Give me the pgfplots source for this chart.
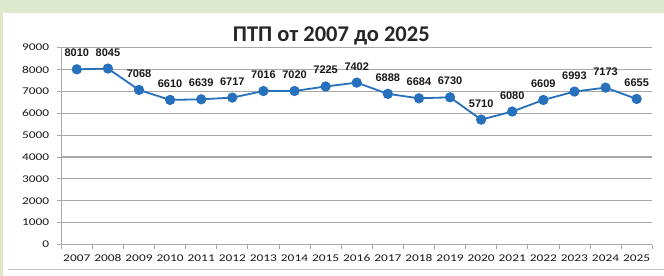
\documentclass[border=0pt]{standalone}
\usepackage{pgfplots}
\pgfplotsset{compat=1.18}
\usepackage{fontspec}
\setmainfont{Carlito}
\newfontfamily\labfont{Liberation Sans}
\newcommand{\W}[1]{\scalebox{1.3}[1]{#1}}
\definecolor{bg}{RGB}{221,232,204}
\definecolor{ln}{RGB}{38,112,188}
\definecolor{gr}{RGB}{168,168,168}
\begin{document}
\begin{tikzpicture}[x=1pt,y=1pt]
\fill[white] (0,0) rectangle (664,276);
\fill[bg] (0,263) rectangle (664,276);
\fill[bg] (0,0) rectangle (3,276);
\draw[gr!70, line width=1pt] (8,6) -- (664,6);
\path[use as bounding box] (0,0) rectangle (664,276);
\node[font=\fontsize{22.5}{26}\selectfont\bfseries, text=black!85] at (331.5,240) {ПТП от 2007 до 2025};
\begin{axis}[
  at={(61.3pt,31.3pt)}, anchor=south west,
  scale only axis, width=591.4pt, height=197pt,
  xmin=-0.5, xmax=18.5, ymin=0, ymax=9000,
  axis lines*=left,
  axis line style={gr, line width=1pt},
  tick align=outside,
  major tick length=4.5pt,
  tick style={gr, line width=0.8pt},
  ymajorgrids, grid style={gr, line width=1.1pt},
  xtick={-0.5,0.5,...,18.5},
  x tick label as interval,
  xticklabels={\W{2007},\W{2008},\W{2009},\W{2010},\W{2011},\W{2012},\W{2013},\W{2014},\W{2015},\W{2016},\W{2017},\W{2018},\W{2019},\W{2020},\W{2021},\W{2022},\W{2023},\W{2024},\W{2025}},
  ytick={0,1000,...,9000},
  yticklabels={\W{0},\W{1000},\W{2000},\W{3000},\W{4000},\W{5000},\W{6000},\W{7000},\W{8000},\W{9000}},
  tick label style={font=\fontsize{10.3}{12}\selectfont, text=black!90},
  xticklabel style={yshift=-2pt},
  yticklabel style={xshift=-4pt},
  clip=false,
]
\addplot[ln, line width=1.8pt, mark=*, mark size=4.2pt, mark options={fill=ln, draw=ln},
  point meta=explicit symbolic,
  nodes near coords,
  every node near coord/.append style={font=\labfont\bfseries\fontsize{11}{12}\selectfont, text=black!90, anchor=south, inner sep=0pt, yshift=11.5pt}]
coordinates {
(0,8010)[8010] (1,8045)[8045] (2,7068)[7068] (3,6610)[6610] (4,6639)[6639]
(5,6717)[6717] (6,7016)[7016] (7,7020)[7020] (8,7225)[7225] (9,7402)[7402]
(10,6888)[6888] (11,6684)[6684] (12,6730)[6730] (13,5710)[5710] (14,6080)[6080]
(15,6609)[6609] (16,6993)[6993] (17,7173)[7173] (18,6655)[6655]
};
\end{axis}
\end{tikzpicture}
\end{document}
